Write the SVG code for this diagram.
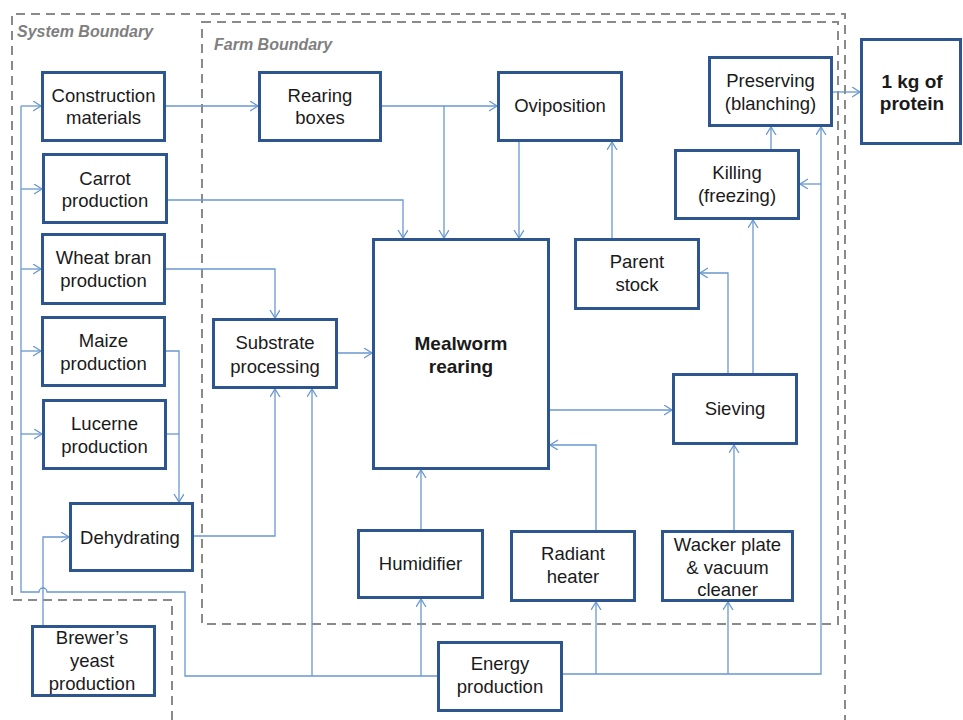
<svg xmlns="http://www.w3.org/2000/svg" width="963" height="720" viewBox="0 0 963 720">
<defs>
<marker id="ah" markerUnits="userSpaceOnUse" markerWidth="12" markerHeight="12" refX="8" refY="5" orient="auto">
<path d="M0,0 L8,5 L0,10" fill="none" stroke="#6a98d0" stroke-width="1.3"/>
</marker>
<style>
.bx{fill:#fff;stroke:#2d5590;stroke-width:3}
.t{font-family:"Liberation Sans",Arial,sans-serif;font-size:18.5px;fill:#1a1a1a;text-anchor:middle}
.b{font-weight:bold;font-size:19px}
.c{fill:none;stroke:#6a98d0;stroke-width:1.3}
.a{marker-end:url(#ah)}
.bd{fill:none;stroke:#8a8a8a;stroke-width:2;stroke-dasharray:9 6}
.lb{font-family:"Liberation Sans",Arial,sans-serif;font-size:16px;font-weight:bold;font-style:italic;fill:#7f7f7f}
</style>
</defs>
<rect width="963" height="720" fill="#fff"/>
<g id="boundaries">
<path class="bd" d="M172,720 V600 H12 V14 H845 V720"/>
<rect class="bd" x="202" y="22" width="636" height="602"/>
<text class="lb" x="17" y="37">System Boundary</text>
<text class="lb" x="214" y="50">Farm Boundary</text>
</g>
<g id="connectors">
<path class="c" d="M437,676 H185 V592 H47 A4,4 0 0 0 39,592 H21 V106"/>
<path class="c a" d="M21,106 H41"/>
<path class="c a" d="M21,189 H42"/>
<path class="c a" d="M21,269 H41"/>
<path class="c a" d="M21,351 H41"/>
<path class="c a" d="M21,434 H42"/>
<path class="c a" d="M166,106 H258"/>
<path class="c a" d="M382,106 H497"/>
<path class="c a" d="M444,106 V238"/>
<path class="c a" d="M168,200 H403 V238"/>
<path class="c a" d="M519,142 V238"/>
<path class="c a" d="M612,238 V142"/>
<path class="c a" d="M166,269 H275 V318"/>
<path class="c a" d="M166,351 H179 V502"/>
<path class="c" d="M167,434 H179"/>
<path class="c a" d="M338,353 H372"/>
<path class="c a" d="M194,536 H275 V389"/>
<path class="c a" d="M312,676 V389"/>
<path class="c a" d="M421,676 V599"/>
<path class="c a" d="M421,529 V470"/>
<path class="c a" d="M563,674 H821 V127"/>
<path class="c a" d="M596,674 V602"/>
<path class="c a" d="M728,674 V602"/>
<path class="c a" d="M821,184 H800"/>
<path class="c a" d="M596,530 V445 H550"/>
<path class="c a" d="M734,530 V445"/>
<path class="c a" d="M550,410 H672"/>
<path class="c a" d="M728,373 V273 H700"/>
<path class="c a" d="M753,373 V220"/>
<path class="c a" d="M771,149 V127"/>
<path class="c a" d="M833,92 H860"/>
<path class="c a" d="M43,625 V537 H69"/>
</g>
<g id="construction"><rect class="bx" x="42.5" y="72.5" width="122" height="68"/><text class="t" x="103.5" y="102">Construction</text><text class="t" x="103.5" y="124">materials</text></g>
<g id="carrot"><rect class="bx" x="43.5" y="154.5" width="123" height="68"/><text class="t" x="105" y="185">Carrot</text><text class="t" x="105" y="207">production</text></g>
<g id="wheat"><rect class="bx" x="42.5" y="234.5" width="122" height="69"/><text class="t" x="103.5" y="264">Wheat bran</text><text class="t" x="103.5" y="287">production</text></g>
<g id="maize"><rect class="bx" x="42.5" y="317.5" width="122" height="68"/><text class="t" x="103.5" y="347">Maize</text><text class="t" x="103.5" y="370">production</text></g>
<g id="lucerne"><rect class="bx" x="43.5" y="400.5" width="122" height="68"/><text class="t" x="104.5" y="430">Lucerne</text><text class="t" x="104.5" y="453">production</text></g>
<g id="dehydrating"><rect class="bx" x="70.5" y="503.5" width="122" height="67"/><text class="t" x="130" y="544">Dehydrating</text></g>
<g id="brewers"><rect class="bx" x="32.5" y="626.5" width="122" height="69"/><text class="t" x="92" y="644">Brewer’s</text><text class="t" x="92" y="667">yeast</text><text class="t" x="92" y="690">production</text></g>
<g id="rearing-boxes"><rect class="bx" x="259.5" y="72.5" width="121" height="68"/><text class="t" x="320" y="102">Rearing</text><text class="t" x="320" y="124">boxes</text></g>
<g id="oviposition"><rect class="bx" x="498.5" y="72.5" width="123" height="68"/><text class="t" x="560" y="112">Oviposition</text></g>
<g id="substrate"><rect class="bx" x="213.5" y="319.5" width="123" height="68"/><text class="t" x="275" y="349">Substrate</text><text class="t" x="275" y="373">processing</text></g>
<g id="mealworm"><rect class="bx" x="373.5" y="239.5" width="175" height="229"/><text class="t b" x="461" y="350">Mealworm</text><text class="t b" x="461" y="373">rearing</text></g>
<g id="parent"><rect class="bx" x="575.5" y="239.5" width="123" height="69"/><text class="t" x="637" y="268">Parent</text><text class="t" x="637" y="291">stock</text></g>
<g id="sieving"><rect class="bx" x="673.5" y="374.5" width="123" height="69"/><text class="t" x="735" y="415">Sieving</text></g>
<g id="killing"><rect class="bx" x="675.5" y="150.5" width="123" height="68"/><text class="t" x="737" y="179">Killing</text><text class="t" x="737" y="202">(freezing)</text></g>
<g id="preserving"><rect class="bx" x="709.5" y="57.5" width="122" height="68"/><text class="t" x="770.5" y="87">Preserving</text><text class="t" x="770.5" y="110">(blanching)</text></g>
<g id="protein"><rect class="bx" x="861.5" y="39.5" width="99" height="104"/><text class="t b" x="912" y="88">1 kg of</text><text class="t b" x="912" y="110">protein</text></g>
<g id="humidifier"><rect class="bx" x="358.5" y="530.5" width="124" height="67"/><text class="t" x="420.5" y="570">Humidifier</text></g>
<g id="radiant"><rect class="bx" x="511.5" y="531.5" width="123" height="69"/><text class="t" x="573" y="560">Radiant</text><text class="t" x="573" y="583">heater</text></g>
<g id="energy"><rect class="bx" x="438.5" y="642.5" width="123" height="68"/><text class="t" x="500" y="670">Energy</text><text class="t" x="500" y="693">production</text></g>
<g id="wacker"><rect class="bx" x="662.5" y="531.5" width="130" height="69"/><text class="t" x="727.5" y="551">Wacker plate</text><text class="t" x="727.5" y="574">&amp; vacuum</text><text class="t" x="727.5" y="596">cleaner</text></g>
</svg>
